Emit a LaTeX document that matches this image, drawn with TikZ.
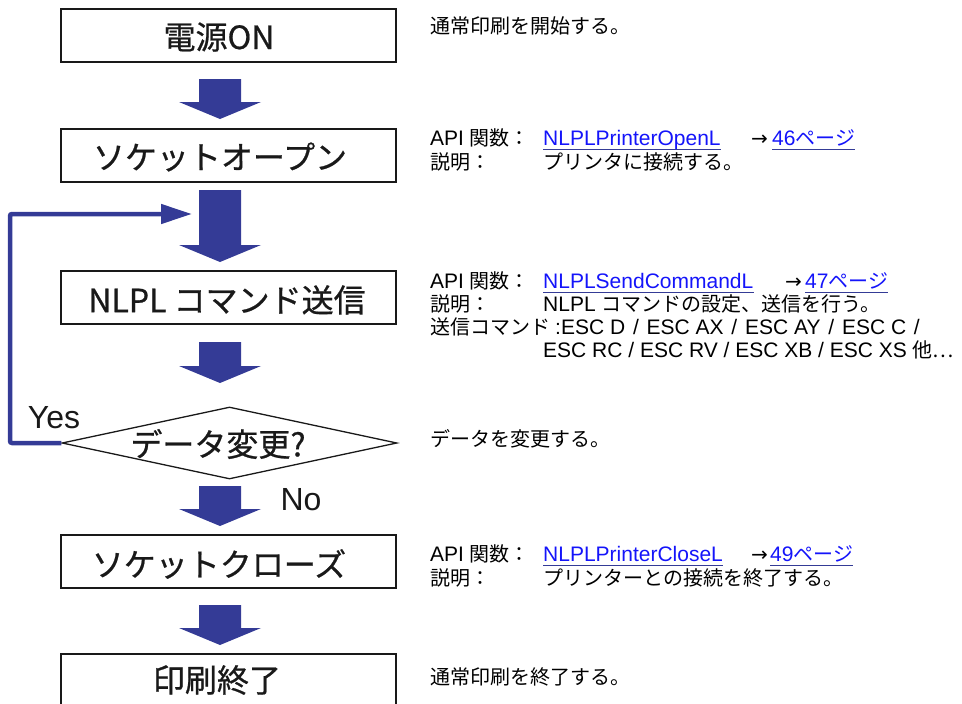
\documentclass[tikz,border=0pt]{standalone}
\usepackage{fontspec}
\setmainfont{Liberation Sans}
\newfontfamily\jp{Noto Sans CJK JP}
\newfontfamily\jpb{Noto Sans CJK JP}[FakeBold=0.7]
\newfontfamily\arr{DejaVu Sans}
\usetikzlibrary{shapes.geometric,arrows.meta,calc}
\definecolor{fatblue}{RGB}{52,59,150}
\definecolor{linkblue}{RGB}{20,20,250}
\definecolor{ink}{RGB}{25,25,25}
\newcommand\J[1]{{\fontsize{20}{24}\jp #1}}
\newcommand\sls{\hspace{7.8pt}/\hspace{7.8pt}}
\newcommand\fatarrow[2]{\fill[fatblue] let \p1=(#1), \p2=(#2) in
  (\x1-21pt,\y1) -- (\x1-21pt,\y2+17pt) -- (\x1-41pt,\y2+17pt) -- (\x2,\y2)
  -- (\x1+41pt,\y2+17pt) -- (\x1+21pt,\y2+17pt) -- (\x1+21pt,\y1) -- cycle;}
\begin{document}
\begin{tikzpicture}[x=1pt,y=-1pt,
  box/.style={draw=ink, line width=2pt, minimum width=335pt, minimum height=53pt, inner sep=0pt},
  lbl/.style={font=\fontsize{32}{36}\jpb, text=ink, inner sep=0pt},
  rt/.style={anchor=base west, inner sep=0pt, font=\fontsize{21}{24}\selectfont, text=black},
  lnk/.style={rt, text=linkblue},
  arrow sym/.style={rt, font=\fontsize{20}{24}\arr},
  ul/.style={draw=fatblue, line width=1.3pt},
  fb/.style={draw=fatblue, line width=4.5pt, rounded corners=2pt, -{Triangle[length=31pt,width=19pt]}},
  yn/.style={font=\fontsize{32}{36}\selectfont, text=ink, inner sep=0pt}]
\useasboundingbox (0,0) rectangle (962,704);
\clip (0,0) rectangle (962,704);

% boxes
\node[box] (b1) at (228.5,35) {};
\node[box] (b2) at (228.5,155.5) {};
\node[box] (b3) at (228.5,297.5) {};
\node[box] (b4) at (228.5,561) {};
\node[box] (b5) at (228.5,680) {};
\node[diamond, draw=ink, line width=1.3pt, minimum width=335pt, minimum height=72pt, inner sep=0pt] (d) at (229.5,443) {};

% box labels
\node[lbl] (t1) at (219,37) {電源ON};
\node[lbl] (t2) at (220,157) {ソケットオープン};
\node[lbl] (t3) at (227,300) {NLPL コマンド送信};
\node[lbl] (td) at (218,444) {データ変更?};
\node[lbl] (t4) at (219,564) {ソケットクローズ};
\node[lbl] (t5) at (217,680) {印刷終了};

% fat arrows
\coordinate (a1s) at (220,79);  \coordinate (a1e) at (220,119);
\coordinate (a2s) at (220,190); \coordinate (a2e) at (220,262);
\coordinate (a3s) at (220,342); \coordinate (a3e) at (220,383);
\coordinate (a4s) at (220,486); \coordinate (a4e) at (220,526);
\coordinate (a5s) at (220,605); \coordinate (a5e) at (220,645);
\fatarrow{a1s}{a1e}
\fatarrow{a2s}{a2e}
\fatarrow{a3s}{a3e}
\fatarrow{a4s}{a4e}
\fatarrow{a5s}{a5e}

% feedback loop
\coordinate (fb1) at (10,443);
\coordinate (fb2) at (10,214);
\coordinate (fbtip) at (192,214);
\draw[fb] (d.west) -- (fb1) -- (fb2) -- (fbtip);
\node[yn] (yes) at (54,418) {Yes};
\node[yn] (no) at (301,500) {No};

% right-hand texts
\node[rt] (r1) at (430,34) {\J{通常印刷を開始する。}};

\node[rt] (r2a) at (430,145) {API \J{関数：}};
\node[lnk] (r2l) at (543,145) {NLPLPrinterOpenL};
\node[arrow sym] (r2r) at (751,145) {→};
\node[lnk] (r2p) at (772,145) {46\J{ページ}};
\node[rt] (r2b) at (430,169) {\J{説明：}};
\node[rt] (r2c) at (543,169) {\J{プリンタに接続する。}};

\node[rt] (r3a) at (430,288) {API \J{関数：}};
\node[lnk] (r3l) at (543,288) {NLPLSendCommandL};
\node[arrow sym] (r3r) at (785,288) {→};
\node[lnk] (r3p) at (805,288) {47\J{ページ}};
\node[rt] (r3b) at (430,311) {\J{説明：}};
\node[rt] (r3c) at (543,311) {NLPL \J{コマンドの設定、送信を行う。}};
\node[rt] (r3d) at (430,334) {\J{送信コマンド}};
\node[rt] (r3e) at (555,334) {:ESC D\sls ESC AX\sls ESC AY\sls ESC C\hspace{7.8pt}/};
\node[rt] (r3f) at (543,357) {ESC RC / ESC RV / ESC XB / ESC XS \J{他⋯}};

\node[rt] (rd) at (430,446) {\J{データを変更する。}};

\node[rt] (r4a) at (430,561) {API \J{関数：}};
\node[lnk] (r4l) at (543,561) {NLPLPrinterCloseL};
\node[arrow sym] (r4r) at (751,561) {→};
\node[lnk] (r4p) at (770,561) {49\J{ページ}};
\node[rt] (r4b) at (430,585) {\J{説明：}};
\node[rt] (r4c) at (543,585) {\J{プリンターとの接続を終了する。}};

\node[rt] (r5) at (430,684) {\J{通常印刷を終了する。}};

% link underlines
\foreach \n in {r2l,r2p,r3l,r3p,r4l,r4p}{
  \draw[ul] ([yshift=-4.5pt]\n.base west) -- ([yshift=-4.5pt]\n.base east);
}
\end{tikzpicture}
\end{document}
